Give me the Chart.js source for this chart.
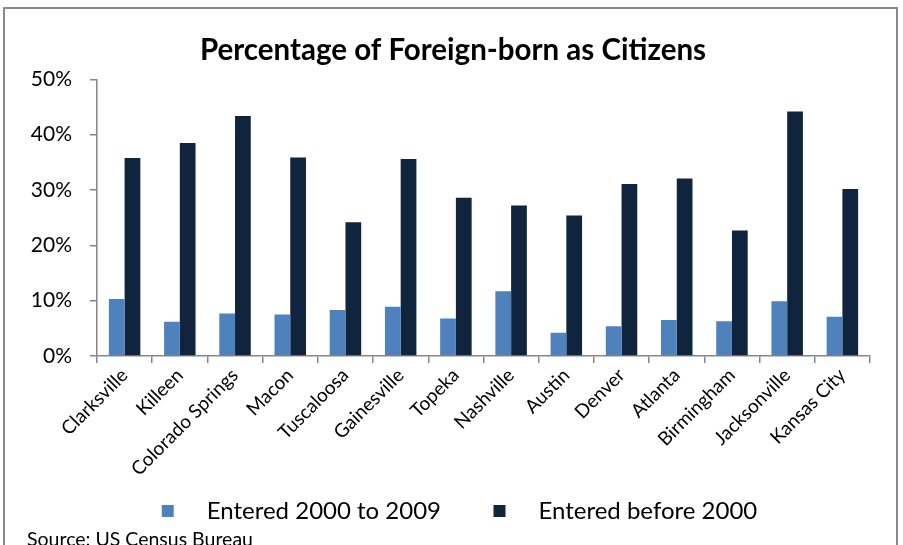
<!DOCTYPE html>
<html lang="en">
<head>
  <meta charset="UTF-8" />
  <title>Percentage of Foreign-born as Citizens</title>
  <script src="https://cdn.jsdelivr.net/npm/chart.js"></script>
  <style>
    html, body { margin: 0; padding: 0; background: #fff; }
    #wrap { position: absolute; left: 0; top: 0; width: 903px; height: 545px; }
  </style>
</head>
<body>
  <div id="wrap"><canvas id="chart" width="903" height="545"></canvas></div>

  <script>
    const cities = ["Clarksville", "Killeen", "Colorado Springs", "Macon", "Tuscaloosa", "Gainesville",
      "Topeka", "Nashville", "Austin", "Denver", "Atlanta", "Birmingham", "Jacksonville", "Kansas City"];
    const entered2000to2009 = [10.3, 6.2, 7.7, 7.5, 8.3, 8.9, 6.8, 11.7, 4.2, 5.4, 6.5, 6.3, 9.9, 7.1];
    const enteredBefore2000 = [35.8, 38.5, 43.4, 35.9, 24.2, 35.6, 28.6, 27.2, 25.4, 31.1, 32.1, 22.7, 44.2, 30.2];
    const yTicks = [0, 10, 20, 30, 40, 50];

    const lightBlue = "#4f81bd";
    const navy = "#10243e";
    const axisGray = "#868686";
    const font = "Lato";

    // legend swatch: square sitting inside a wider transparent strip
    function swatch(color) {
      const c = document.createElement("canvas");
      c.width = 46; c.height = 12;
      const g = c.getContext("2d");
      g.fillStyle = color;
      g.fillRect(13, 0, 12, 12);
      return c;
    }
    const swatches = [swatch(lightBlue), swatch(navy)];

    const framePlugin = {
      id: "frame",
      afterDraw(chart) {
        const { ctx } = chart;
        ctx.save();
        ctx.strokeStyle = "#8a8a8a";
        ctx.lineWidth = 2;
        ctx.strokeRect(4, 8, 893, 600);
        ctx.fillStyle = "#000";
        ctx.font = "19.5px " + font;
        ctx.textBaseline = "top";
        ctx.textAlign = "left";
        ctx.fillText("Source: US Census Bureau", 27, 530);
        ctx.restore();
      }
    };

    new Chart(document.getElementById("chart"), {
      type: "bar",
      data: {
        labels: cities,
        datasets: [{
          label: "Entered 2000 to 2009",
          data: entered2000to2009,
          backgroundColor: lightBlue,
          barPercentage: 1,
          categoryPercentage: 0.57
        }, {
          label: "Entered before 2000",
          data: enteredBefore2000,
          backgroundColor: navy,
          barPercentage: 1,
          categoryPercentage: 0.57
        }]
      },
      options: {
        responsive: false,
        animation: false,
        layout: { padding: { left: 3, right: 0, top: 0, bottom: 12 } },
        scales: {
          y: {
            min: 0,
            max: 50,
            afterBuildTicks(scale) { scale.ticks = yTicks.map(v => ({ value: v })); },
            afterFit(scale) { scale.width = 94; },
            ticks: {
              color: "#000",
              font: { family: font, size: 21 },
              padding: 18,
              callback: v => v + "%"
            },
            grid: { drawOnChartArea: false, drawTicks: true, tickLength: 7, color: axisGray, lineWidth: 1.5 },
            border: { color: axisGray, width: 1.5 }
          },
          // empty right gutter so the plot ends where the original does
          gutter: {
            type: "linear",
            position: "right",
            grid: { display: false },
            ticks: { display: false },
            border: { display: false },
            afterFit(scale) { scale.width = 33; }
          },
          x: {
            afterFit(scale) { scale.height = 122; },
            ticks: {
              color: "#000",
              font: { family: font, size: 19 },
              maxRotation: 45,
              minRotation: 45,
              autoSkip: false,
              padding: 1
            },
            grid: { offset: true, drawOnChartArea: false, drawTicks: true, tickLength: 7, color: axisGray, lineWidth: 1.5 },
            border: { color: axisGray, width: 1.5 }
          }
        },
        plugins: {
          title: {
            display: true,
            text: "Percentage of Foreign-born as Citizens",
            color: "#000",
            font: { family: font, size: 29.5, weight: "bold", lineHeight: 1.2 },
            padding: { top: 33, bottom: 11 }
          },
          legend: {
            position: "bottom",
            labels: {
              color: "#000",
              font: { family: font, size: 24 },
              usePointStyle: true,
              pointStyleWidth: 46,
              padding: 21,
              generateLabels(chart) {
                return chart.data.datasets.map((ds, i) => ({
                  // a little extra room after the first entry
                  text: i === 0 ? ds.label + "   " : ds.label,
                  datasetIndex: i,
                  pointStyle: swatches[i],
                  fillStyle: ds.backgroundColor,
                  strokeStyle: ds.backgroundColor,
                  lineWidth: 0,
                  hidden: false
                }));
              }
            }
          },
          tooltip: { enabled: false }
        }
      },
      plugins: [framePlugin]
    });
  </script>
</body>
</html>
